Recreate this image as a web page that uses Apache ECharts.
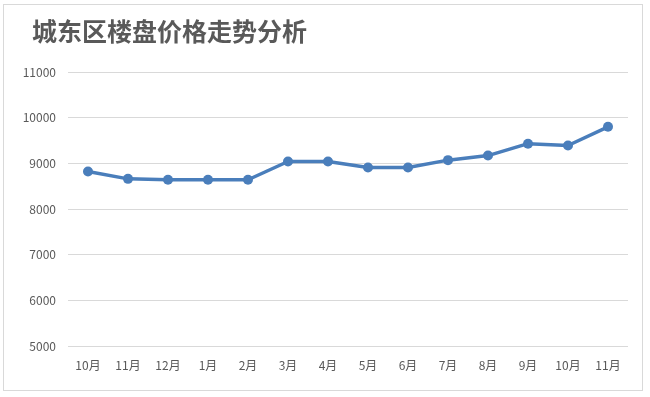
<!DOCTYPE html>
<html>
<head>
<meta charset="utf-8">
<script src="https://cdn.jsdelivr.net/npm/echarts@6/dist/echarts.min.js"></script>
<style>
  html, body { margin: 0; padding: 0; background: #fff; }
  #wrap { position: absolute; left: 3px; top: 4px; width: 640px; height: 387px; border: 1px solid #d9d9d9; box-sizing: border-box; }
  #chart { position: absolute; left: 0; top: 0; width: 650px; height: 397px; }
</style>
</head>
<body>
<div id="wrap"></div>
<div id="chart"></div>
<script>
const months = ['10月', '11月', '12月', '1月', '2月', '3月', '4月', '5月', '6月', '7月', '8月', '9月', '10月', '11月']
const prices = [8820, 8660, 8640, 8640, 8640, 9040, 9040, 8910, 8910, 9070, 9170, 9430, 9390, 9800]
const yTicks = { min: 5000, max: 11000, step: 1000 }

const chart = echarts.init(document.getElementById('chart'))

chart.setOption({
  animation: false,
  textStyle: { fontFamily: '"Noto Sans CJK SC", "Liberation Sans", sans-serif' },
  title: {
    text: '城东区楼盘价格走势分析',
    left: 27,
    top: 14,
    textStyle: { fontSize: 25, fontWeight: 'bold', color: '#595959' }
  },
  grid: { left: 68, right: 22, top: 72, bottom: 51, containLabel: false },
  xAxis: {
    type: 'category',
    data: months,
    boundaryGap: true,
    axisLine: { show: false },
    axisTick: { show: false },
    axisLabel: { color: '#595959', fontSize: 12, margin: 13, interval: 0 }
  },
  yAxis: {
    type: 'value',
    min: yTicks.min,
    max: yTicks.max,
    interval: yTicks.step,
    axisLine: { show: false },
    axisTick: { show: false },
    axisLabel: { color: '#595959', fontSize: 12, margin: 12, formatter: (v) => String(v) },
    splitLine: { lineStyle: { color: '#d9d9d9', width: 1 } }
  },
  series: [
    {
      name: '价格',
      type: 'line',
      data: prices,
      symbol: 'circle',
      symbolSize: 10,
      lineStyle: { color: '#4a7ebb', width: 3.5 },
      itemStyle: { color: '#4a7ebb' }
    }
  ]
})
</script>
</body>
</html>
